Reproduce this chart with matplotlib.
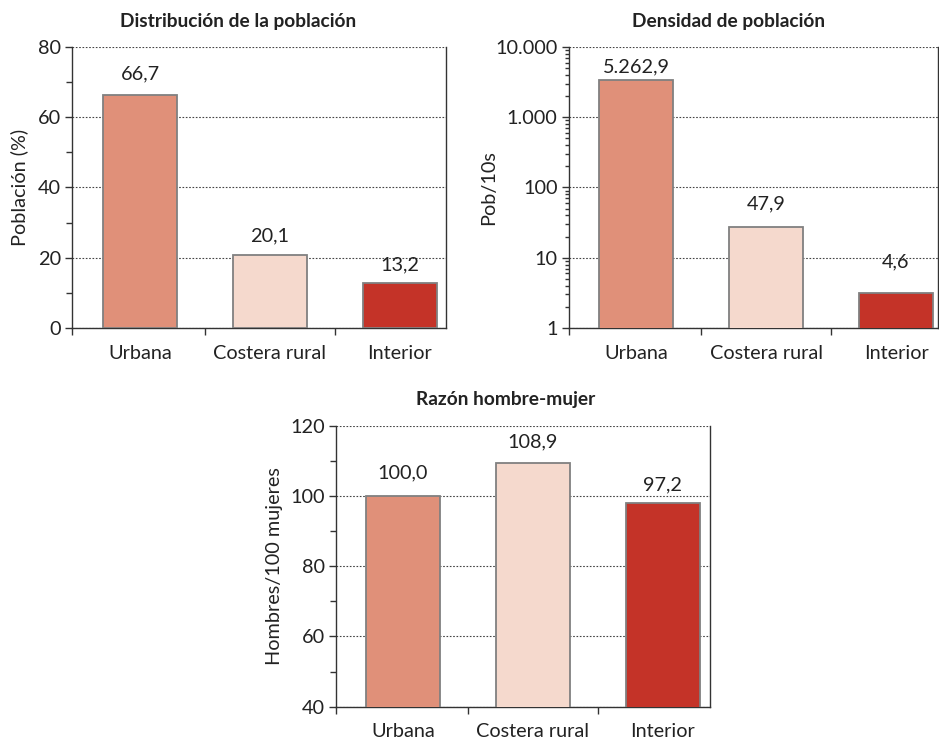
import matplotlib
matplotlib.use("Agg")
import matplotlib.pyplot as plt
from matplotlib.ticker import FixedLocator, FixedFormatter, NullFormatter, LogLocator

plt.rcParams['font.family'] = ['Lato', 'DejaVu Sans']

categories = ["Urbana", "Costera rural", "Interior"]
colors = ["#E09079", "#F5D9CD", "#C43328"]

# Panel 1: distribución
dist_values = [66.2, 20.9, 12.8]
dist_labels = ["66,7", "20,1", "13,2"]
dist_yticks = [0, 20, 40, 60, 80]

# Panel 2: densidad (log)
dens_values = [3390, 27.7, 3.12]
dens_labels = ["5.262,9", "47,9", "4,6"]
dens_yticks = [1, 10, 100, 1000, 10000]
dens_yticklabels = ["1", "10", "100", "1.000", "10.000"]

# Panel 3: razón
ratio_values = [100.0, 109.3, 98.1]
ratio_labels = ["100,0", "108,9", "97,2"]
ratio_yticks = [40, 60, 80, 100, 120]

W, H = 939, 742
fig = plt.figure(figsize=(W / 100, H / 100), dpi=100)

FS = 14.3
TFS = 13.8

def px_axes(left, top, right, bottom):
    return fig.add_axes([left / W, 1 - bottom / H, (right - left) / W, (bottom - top) / H])

TXT = "#222222"
EDGE = "#808080"

def style(ax, xlim, ylabel, ylabel_x_px, width_px):
    x = list(range(len(categories)))
    ax.set_xlim(*xlim)
    ax.spines["top"].set_visible(False)
    for s in ["left", "bottom", "right"]:
        ax.spines[s].set_color("#333333")
        ax.spines[s].set_linewidth(1.0)
    ax.xaxis.set_major_locator(FixedLocator([xlim[0], 0.5, 1.5]))
    ax.xaxis.set_major_formatter(NullFormatter())
    ax.xaxis.set_minor_locator(FixedLocator(x))
    ax.xaxis.set_minor_formatter(FixedFormatter(categories))
    ax.tick_params(axis="x", which="major", direction="out", length=5, width=1, color="#333333")
    ax.tick_params(axis="x", which="minor", length=0, pad=12, labelsize=FS, labelcolor=TXT)
    ax.tick_params(axis="y", which="major", direction="out", length=5, width=1, color="#333333",
                   labelsize=FS, labelcolor=TXT, pad=3)
    ax.tick_params(axis="y", which="minor", direction="out", length=4, width=1, color="#333333")
    ax.yaxis.grid(True, which="major", linestyle=(0, (1.5, 1.5)), color="#444444", linewidth=0.8)
    ax.set_axisbelow(True)
    ax.set_ylabel(ylabel, fontsize=FS, color=TXT)
    ax.yaxis.set_label_coords(-ylabel_x_px / width_px, 0.5)

def bars(ax, values, labels, offsets):
    x = list(range(len(categories)))
    ax.bar(x, values, width=0.565, color=colors, edgecolor=EDGE, linewidth=1.3, zorder=3)
    for xi, v, lab, off in zip(x, values, labels, offsets):
        ax.annotate(lab, (xi, v), xytext=(0, off), textcoords="offset pixels",
                    ha="center", va="center", fontsize=FS, color=TXT, zorder=4)

# Panel 1
ax1 = px_axes(72, 47, 446, 328)
bars(ax1, dist_values, dist_labels, [22, 19, 18])
ax1.set_ylim(0, 80)
ax1.set_yticks(dist_yticks)
ax1.yaxis.set_minor_locator(FixedLocator([10, 30, 50, 70]))
style(ax1, (-0.523, 2.354), "Población (%)", 72 - 28, 374)
fig.text(238 / W, 1 - 21 / H, "Distribución de la población", ha="center", va="center",
         fontsize=TFS, fontweight="bold", color=TXT)

# Panel 2
ax2 = px_axes(568.7, 47, 938, 328)
ax2.set_yscale("log")
bars(ax2, dens_values, dens_labels, [13, 23, 31])
ax2.set_ylim(1, 10000)
ax2.yaxis.set_major_locator(FixedLocator(dens_yticks))
ax2.yaxis.set_major_formatter(FixedFormatter(dens_yticklabels))
ax2.yaxis.set_minor_locator(LogLocator(base=10, subs=range(2, 10)))
ax2.yaxis.set_minor_formatter(NullFormatter())
style(ax2, (-0.518, 2.323), "Pob/10s", 568.7 - 497, 369.3)
ax2.tick_params(axis="y", which="minor", length=3)
fig.text(729 / W, 1 - 21 / H, "Densidad de población", ha="center", va="center",
         fontsize=TFS, fontweight="bold", color=TXT)

# Panel 3
ax3 = px_axes(336, 425.7, 710, 706.7)
bars(ax3, ratio_values, ratio_labels, [23, 21, 18])
ax3.set_ylim(40, 120)
ax3.set_yticks(ratio_yticks)
ax3.yaxis.set_minor_locator(FixedLocator([50, 70, 90, 110]))
style(ax3, (-0.515, 2.362), "Hombres/100 mujeres", 336 - 283, 374)
fig.text(506 / W, 1 - 399 / H, "Razón hombre-mujer", ha="center", va="center",
         fontsize=TFS, fontweight="bold", color=TXT)

fig.savefig("out.png", dpi=100)
